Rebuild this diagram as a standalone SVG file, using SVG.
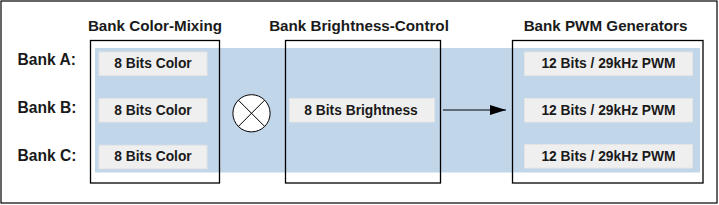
<svg xmlns="http://www.w3.org/2000/svg" width="719" height="205" viewBox="0 0 719 205">
<style>
  .title { font-family: "Liberation Sans", Arial, sans-serif; font-weight: bold; font-size: 15.2px; fill: #1a1a1a; text-anchor: middle; }
  .bank { font-family: "Liberation Sans", Arial, sans-serif; font-weight: bold; font-size: 15.6px; fill: #1a1a1a; }
  .lbl { font-family: "Liberation Sans", Arial, sans-serif; font-weight: bold; font-size: 13.8px; fill: #1a1a1a; text-anchor: middle; }
  .cell { fill: #efefef; stroke: #e4e4e4; stroke-width: 1; }
  .frame { fill: none; stroke: #000; stroke-width: 1.3; }
</style>
<defs>
  <marker id="arr" viewBox="0 0 16 10" refX="16" refY="5" markerWidth="16" markerHeight="10" markerUnits="userSpaceOnUse" orient="auto">
    <path d="M0,0 L16,5 L0,10 Z" fill="#000"/>
  </marker>
</defs>
<rect x="0" y="0" width="719" height="205" fill="#fff"/>
<rect x="1" y="1" width="716" height="202" fill="none" stroke="#000" stroke-width="1.2"/>
<rect id="band" x="95" y="48" width="605" height="124.5" fill="#c2d6ea"/>

<g id="bank-labels">
  <text class="bank" x="17.5" y="65">Bank A:</text>
  <text class="bank" x="17.5" y="113">Bank B:</text>
  <text class="bank" x="17.5" y="161">Bank C:</text>
</g>

<g id="color-mixing">
  <text class="title" x="155" y="30.5">Bank Color-Mixing</text>
  <rect class="cell" x="99" y="52" width="108" height="23.5"/>
  <text class="lbl" x="153" y="67.5">8 Bits Color</text>
  <rect class="cell" x="99" y="98.5" width="108" height="23.5"/>
  <text class="lbl" x="153" y="114.5">8 Bits Color</text>
  <rect class="cell" x="99" y="145.3" width="108" height="23.5"/>
  <text class="lbl" x="153" y="161.3">8 Bits Color</text>
  <rect class="frame" x="90.5" y="40.5" width="129" height="142.5"/>
</g>

<g id="multiply">
  <circle cx="251.5" cy="113.3" r="18.6" fill="#fff" stroke="#000" stroke-width="1"/>
  <path d="M238.35,100.15 L264.65,126.45 M264.65,100.15 L238.35,126.45" stroke="#000" stroke-width="1" fill="none"/>
</g>

<g id="brightness">
  <text class="title" x="359" y="30.5">Bank Brightness-Control</text>
  <rect class="cell" x="289.5" y="98.5" width="145" height="23.5"/>
  <text class="lbl" x="361" y="114.5">8 Bits Brightness</text>
  <rect class="frame" x="285.5" y="40.5" width="155" height="142.5"/>
</g>

<g id="pwm">
  <text class="title" x="605.5" y="30.5">Bank PWM Generators</text>
  <rect class="cell" x="524.5" y="52" width="168" height="23.5"/>
  <text class="lbl" x="608.5" y="67.5">12 Bits / 29kHz PWM</text>
  <rect class="cell" x="524.5" y="98.5" width="168" height="23.5"/>
  <text class="lbl" x="608.5" y="114.5">12 Bits / 29kHz PWM</text>
  <rect class="cell" x="524.5" y="144.5" width="168" height="23.5"/>
  <text class="lbl" x="608.5" y="160.5">12 Bits / 29kHz PWM</text>
  <rect class="frame" x="512.5" y="40.5" width="190.5" height="142.5"/>
</g>

<g id="connectors">
  <line x1="443" y1="110" x2="506" y2="110" stroke="#000" stroke-width="1.2" marker-end="url(#arr)"/>
</g>
</svg>
